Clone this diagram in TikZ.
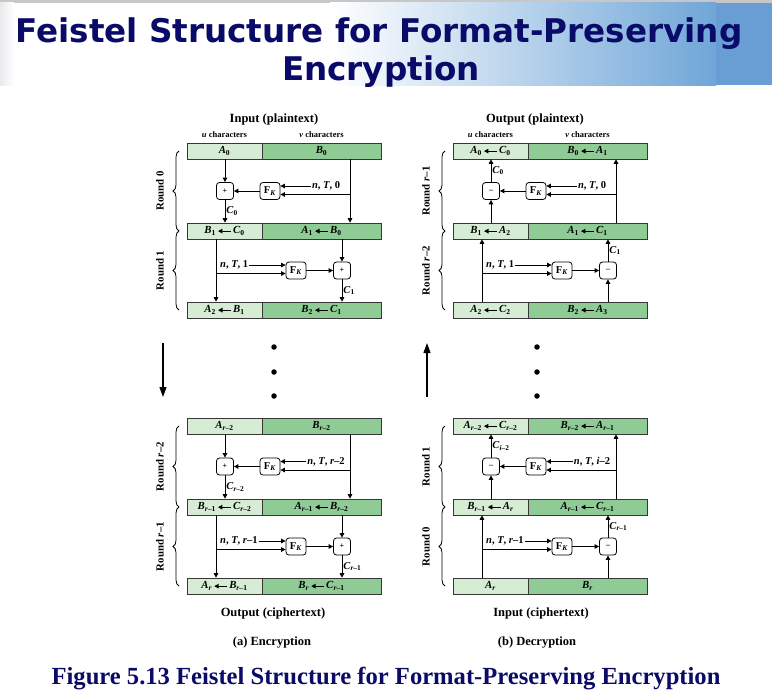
\documentclass[tikz,border=0pt]{standalone}
\usepackage{fontspec}
\setmainfont{Liberation Serif}
\newfontfamily\titlefont{DejaVu Sans}
\usetikzlibrary{arrows.meta,decorations.pathreplacing}
\definecolor{lgreen}{RGB}{214,236,212}
\definecolor{mgreen}{RGB}{143,203,149}
\definecolor{bord}{RGB}{55,55,55}
\definecolor{navy}{RGB}{10,10,104}
\definecolor{bannerblue}{RGB}{112,166,216}
\definecolor{bannerend}{RGB}{104,158,212}
\newcommand\V[2]{\textit{#1}\textsubscript{#2}}
\newcommand\LA{\kern1.5pt\tikz[baseline={(0pt,-2.6pt)}]{\draw[line width=1.1pt, {Triangle[length=4.5pt,width=4.5pt]}-] (0pt,0pt) -- (13pt,0pt);}\kern1.5pt}
\newcommand\rr{\textit{r}}
\newcommand\NT[1]{\textit{n}, \textit{T}, #1}
\newcommand\FK{F\textsubscript{\textit{K}}}
\tikzset{
 barL/.style={draw=bord, line width=0.6pt, fill=lgreen, minimum width=75pt, minimum height=16pt, inner sep=0pt, font=\fontsize{10.8}{12}\selectfont\bfseries},
 barR/.style={barL, fill=mgreen, minimum width=119pt},
 opbox/.style={draw=black, line width=0.8pt, rounded corners=3pt, fill=white, minimum width=17pt, minimum height=17pt, inner sep=0pt, font=\fontsize{8}{9}\selectfont\bfseries},
 fkbox/.style={opbox, minimum width=20pt, font=\fontsize{10.5}{11}\selectfont\bfseries},
 lbl/.style={inner sep=1pt, font=\fontsize{10.5}{11}\selectfont\bfseries},
 arr/.style={line width=0.9pt, -{Triangle[length=4.5pt,width=4.5pt]}},
 bigarr/.style={line width=1.2pt, -{Triangle[length=10pt,width=7pt]}},
 brc/.style={decorate, decoration={brace, amplitude=6pt}, line width=0.8pt},
 rnd/.style={rotate=90, inner sep=1pt, font=\fontsize{10.8}{12}\selectfont\bfseries},
 hdr/.style={inner sep=1pt, font=\fontsize{12.5}{14}\selectfont\bfseries},
 chr/.style={inner sep=1pt, font=\fontsize{8.5}{10}\selectfont\bfseries},
 dotn/.style={circle, fill=black, inner sep=0pt, minimum size=5.5pt},
}
% bars: name, y, xoffset, left text, right text
\newcommand\bars[5]{%
 \node[barL] (#1L) at ({#3+224.5},#2) {#4};
 \node[barR] (#1R) at ({#3+321.5},#2) {#5};}
% encryption round, type A: prefix, xo, y, topL, topR, midL, midR, input, C-sub
\newcommand\encA[9]{%
 \node[opbox] (#1op) at ({#2+225},#3) {+};
 \node[fkbox] (#1fk) at ({#2+270},#3) {\FK};
 \coordinate (#1rv) at ({#2+350},{#3+3.5});
 \node[lbl] (#1in) at ({#2+326},{#3-5}) {\NT{#8}};
 \draw[arr] (#4.south -| #1op) -- (#1op);
 \draw[arr] (#1op) -- (#6.north -| #1op) node[lbl, midway, right] (#1c) {\V{C}{#9}};
 \draw[arr] (#5.south -| #1rv) -- (#7.north -| #1rv);
 \draw[arr] (#1rv) -- (#1rv -| #1fk.east);
 \draw[arr] (#1in) -- (#1in -| #1fk.east);
 \draw[arr] (#1fk) -- (#1op);}
% encryption round, type B: prefix, xo, y, midL, midR, botL, botR, input, C-sub
\newcommand\encB[9]{%
 \node[opbox] (#1op) at ({#2+342},#3) {+};
 \node[fkbox] (#1fk) at ({#2+296},#3) {\FK};
 \coordinate (#1lv) at ({#2+216},{#3+3});
 \node[lbl, anchor=west] (#1in) at ({#2+219},{#3-5.5}) {\NT{#8}};
 \draw[arr] (#4.south -| #1lv) -- (#6.north -| #1lv);
 \draw[arr] (#1lv) -- (#1lv -| #1fk.west);
 \draw[arr] (#1in) -- (#1in -| #1fk.west);
 \draw[arr] (#5.south -| #1op) -- (#1op);
 \draw[arr] (#1op) -- (#7.north -| #1op) node[lbl, midway, right] (#1c) {\V{C}{#9}};
 \draw[arr] (#1fk) -- (#1op);}
% decryption round, type A: prefix, xo, y, topL, topR, midL, midR, input, C-sub
\newcommand\decA[9]{%
 \node[opbox] (#1op) at ({#2+225},#3) {\textendash};
 \node[fkbox] (#1fk) at ({#2+270},#3) {\FK};
 \coordinate (#1rv) at ({#2+350},{#3+3.5});
 \node[lbl] (#1in) at ({#2+326},{#3-5}) {\NT{#8}};
 \draw[arr] (#6.north -| #1op) -- (#1op);
 \draw[arr] (#1op) -- (#4.south -| #1op) node[lbl, midway, right] (#1c) {\V{C}{#9}};
 \draw[arr] (#7.north -| #1rv) -- (#5.south -| #1rv);
 \draw[arr] (#1rv) -- (#1rv -| #1fk.east);
 \draw[arr] (#1in) -- (#1in -| #1fk.east);
 \draw[arr] (#1fk) -- (#1op);}
% decryption round, type B: prefix, xo, y, midL, midR, botL, botR, input, C-sub
\newcommand\decB[9]{%
 \node[opbox] (#1op) at ({#2+342},#3) {\textendash};
 \node[fkbox] (#1fk) at ({#2+296},#3) {\FK};
 \coordinate (#1lv) at ({#2+216},{#3+3});
 \node[lbl, anchor=west] (#1in) at ({#2+219},{#3-5.5}) {\NT{#8}};
 \draw[arr] (#6.north -| #1lv) -- (#4.south -| #1lv);
 \draw[arr] (#1lv) -- (#1lv -| #1fk.west);
 \draw[arr] (#1in) -- (#1in -| #1fk.west);
 \draw[arr] (#7.north -| #1op) -- (#1op);
 \draw[arr] (#1op) -- (#5.south -| #1op) node[lbl, midway, right] (#1c) {\V{C}{#9}};
 \draw[arr] (#1fk) -- (#1op);}
\begin{document}
\begin{tikzpicture}[x=1pt, y=-1pt]
\useasboundingbox (0,0) rectangle (772,697);
\fill[white] (0,0) rectangle (772,697);
% banner
\fill[black!22] (0,0) rectangle (772,2.5);
\shade[left color=blue!10!gray!15, right color=white] (0,2.5) rectangle (14,85);
\shade[left color=white, right color=bannerblue] (330,2.5) rectangle (716,85);
\fill[bannerend] (716,2.5) rectangle (772,85);
\node[anchor=base, inner sep=0pt, text=navy, font=\titlefont\bfseries\fontsize{32.6}{38}\selectfont] (title1) at (379,42) {Feistel Structure for Format-Preserving};
\node[anchor=base, inner sep=0pt, text=navy, font=\titlefont\bfseries\fontsize{32.6}{38}\selectfont] (title2) at (381,80) {Encryption};

% ===== headers =====
\node[hdr] (hinL) at (274,119) {Input (plaintext)};
\node[chr] (huL) at (224.5,135) {\textit{u} characters};
\node[chr] (hvL) at (321.5,135) {\textit{v} characters};
\node[hdr] (houtR) at (535,119) {Output (plaintext)};
\node[chr] (huR) at (490.5,135) {\textit{u} characters};
\node[chr] (hvR) at (587.5,135) {\textit{v} characters};

% ===== encryption, top =====
\bars{e0}{151}{0}{\V{A}{0}}{\V{B}{0}}
\bars{e1}{231}{0}{\V{B}{1}\LA\V{C}{0}}{\V{A}{1}\LA\V{B}{0}}
\bars{e2}{310}{0}{\V{A}{2}\LA\V{B}{1}}{\V{B}{2}\LA\V{C}{1}}
\encA{ea}{0}{191}{e0L}{e0R}{e1L}{e1R}{0}{0}
\encB{eb}{0}{270.5}{e1L}{e1R}{e2L}{e2R}{1}{1}
\draw[brc] (179,231) -- (179,151);
\draw[brc] (179,310) -- (179,231);
\node[rnd] (re0) at (160,191) {Round 0};
\node[rnd] (re1) at (160,270.5) {Round 1};

% ===== decryption, top =====
\bars{d0}{151}{266}{\V{A}{0}\LA\V{C}{0}}{\V{B}{0}\LA\V{A}{1}}
\bars{d1}{231}{266}{\V{B}{1}\LA\V{A}{2}}{\V{A}{1}\LA\V{C}{1}}
\bars{d2}{310}{266}{\V{A}{2}\LA\V{C}{2}}{\V{B}{2}\LA\V{A}{3}}
\decA{da}{266}{191}{d0L}{d0R}{d1L}{d1R}{0}{0}
\decB{db}{266}{270.5}{d1L}{d1R}{d2L}{d2R}{1}{1}
\draw[brc] (445,231) -- (445,151);
\draw[brc] (445,310) -- (445,231);
\node[rnd] (rd0) at (426,191) {Round \rr--1};
\node[rnd] (rd1) at (426,270.5) {Round \rr--2};

% ===== middle =====
\coordinate (encA1) at (163,343);
\coordinate (encA2) at (163,397);
\draw[bigarr] (encA1) -- (encA2);
\coordinate (decA1) at (427,397);
\coordinate (decA2) at (427,343);
\draw[bigarr] (decA1) -- (decA2);
\node[dotn] (dl1) at (274,347) {};
\node[dotn] (dl2) at (274,372) {};
\node[dotn] (dl3) at (274,396) {};
\node[dotn] (dr1) at (537,347) {};
\node[dotn] (dr2) at (537,372) {};
\node[dotn] (dr3) at (537,396) {};

% ===== encryption, bottom =====
\bars{f0}{426}{0}{\V{A}{\rr--2}}{\V{B}{\rr--2}}
\bars{f1}{507}{0}{\V{B}{\rr--1}\LA\V{C}{\rr--2}}{\V{A}{\rr--1}\LA\V{B}{\rr--2}}
\bars{f2}{586}{0}{\V{A}{\rr}\LA\V{B}{\rr--1}}{\V{B}{\rr}\LA\V{C}{\rr--1}}
\encA{fa}{0}{466.5}{f0L}{f0R}{f1L}{f1R}{\rr--2}{\rr--2}
\encB{fb}{0}{546.5}{f1L}{f1R}{f2L}{f2R}{\rr--1}{\rr--1}
\draw[brc] (179,507) -- (179,426);
\draw[brc] (179,586) -- (179,507);
\node[rnd] (rf0) at (160,466.5) {Round \rr--2};
\node[rnd] (rf1) at (160,546.5) {Round \rr--1};

% ===== decryption, bottom =====
\bars{g0}{426}{266}{\V{A}{\rr--2}\LA\V{C}{\rr--2}}{\V{B}{\rr--2}\LA\V{A}{\rr--1}}
\bars{g1}{507}{266}{\V{B}{\rr--1}\LA\V{A}{\rr}}{\V{A}{\rr--1}\LA\V{C}{\rr--1}}
\bars{g2}{586}{266}{\V{A}{\rr}}{\V{B}{\rr}}
\decA{ga}{266}{466.5}{g0L}{g0R}{g1L}{g1R}{\textit{i}--2}{\textit{i}--2}
\decB{gb}{266}{546.5}{g1L}{g1R}{g2L}{g2R}{\rr--1}{\rr--1}
\draw[brc] (445,507) -- (445,426);
\draw[brc] (445,586) -- (445,507);
\node[rnd] (rg0) at (426,466.5) {Round 1};
\node[rnd] (rg1) at (426,546.5) {Round 0};

% ===== footers =====
\node[hdr] (foutL) at (273,613) {Output (ciphertext)};
\node[hdr] (fcapL) at (272,643) {(a) Encryption};
\node[hdr] (finR) at (541,613) {Input (ciphertext)};
\node[hdr] (fcapR) at (537,643) {(b) Decryption};

% caption
\node[anchor=base, inner sep=0pt, text=navy, font=\bfseries\fontsize{24.6}{28}\selectfont] (caption) at (386,684) {Figure 5.13 Feistel Structure for Format-Preserving Encryption};
\end{tikzpicture}
\end{document}
